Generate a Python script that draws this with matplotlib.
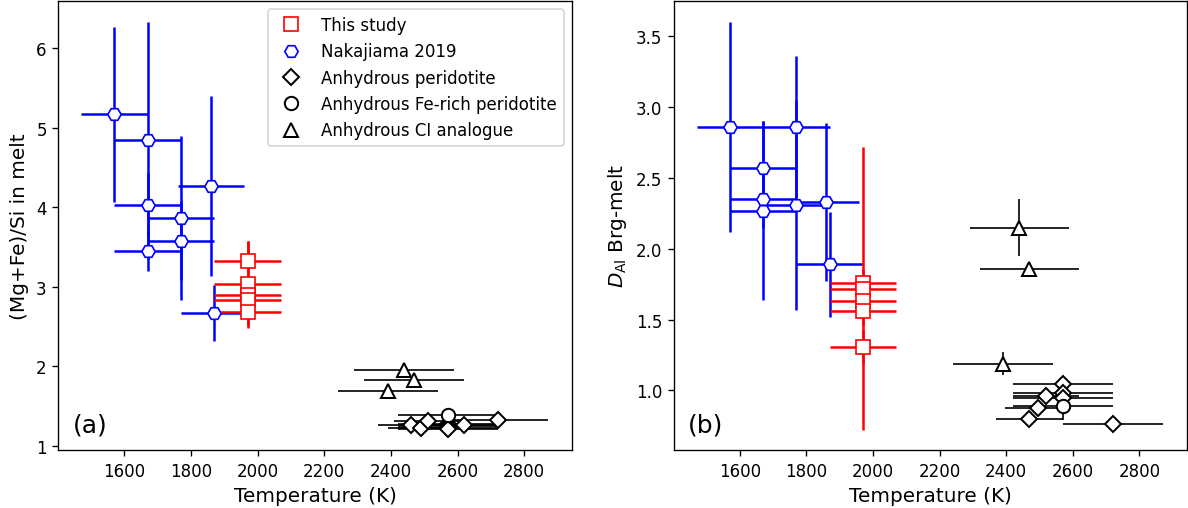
import matplotlib
matplotlib.use('Agg')
from matplotlib import pyplot as plt
from matplotlib.lines import Line2D

plt.rcParams['font.size'] = 10

# This study
ts_T = [1970, 1970, 1970, 1970, 1970]
ts_T_err = [100, 100, 100, 100, 100]
ts_mgfe = [3.32, 3.03, 2.90, 2.84, 2.68]
ts_mgfe_err = [0.26, 0.55, 0.12, 0.12, 0.17]
ts_dal = [1.76, 1.72, 1.63, 1.56, 1.31]
ts_dal_err = [0.10, 1.00, 0.10, 0.10, 0.12]

# Nakajiama 2019
nak_T = [1570, 1670, 1670, 1670, 1770, 1770, 1860, 1870]
nak_T_err = [100, 100, 100, 100, 100, 100, 98, 100]
nak_mgfe = [5.17, 4.84, 4.03, 3.45, 3.86, 3.58, 4.27, 2.67]
nak_mgfe_err = [1.10, 1.49, 0.40, 0.25, 1.03, 0.50, 1.13, 0.35]
nak_dal = [2.86, 2.57, 2.35, 2.27, 2.86, 2.31, 2.33, 1.89]
nak_dal_err = [0.74, 0.33, 0.20, 0.63, 0.50, 0.74, 0.56, 0.37]

# Anhydrous peridotite
per_T_a = [2460, 2490, 2510, 2570, 2570, 2570, 2570, 2620, 2720]
per_T_err_a = [100, 100, 100, 150, 150, 150, 150, 100, 150]
per_mgfe = [1.26, 1.23, 1.31, 1.28, 1.25, 1.23, 1.21, 1.26, 1.33]
per_mgfe_err = [0.03, 0.03, 0.03, 0.03, 0.03, 0.03, 0.03, 0.03, 0.03]
per_T_b = [2470, 2495, 2520, 2570, 2570, 2570, 2720]
per_T_err_b = [100, 100, 100, 150, 150, 150, 150]
per_dal = [0.80, 0.875, 0.96, 1.045, 0.98, 0.95, 0.765]
per_dal_err = [0.03, 0.03, 0.05, 0.03, 0.03, 0.03, 0.03]

# Anhydrous Fe-rich peridotite
fe_T = [2570]
fe_T_err = [150]
fe_mgfe = [1.39]
fe_mgfe_err = [0.03]
fe_dal = [0.89]
fe_dal_err = [0.10]

# Anhydrous CI analogue
ci_T = [2440, 2470, 2390]
ci_T_err = [150, 150, 150]
ci_mgfe = [1.955, 1.83, 1.69]
ci_mgfe_err = [0.02, 0.02, 0.02]
ci_dal = [2.15, 1.86, 1.19]
ci_dal_err = [0.20, 0.05, 0.08]


def series(ax, x, y, xerr, yerr, marker, color, ms, lw, mew):
    ax.errorbar(x, y, xerr=xerr, yerr=yerr, fmt=marker, color=color,
                mfc='white', mec=color, ms=ms, mew=mew, elinewidth=lw,
                capsize=0, ls='none')


fig = plt.figure(figsize=(9.9, 509 / 120), dpi=120)
ax1 = fig.add_axes([0.0492, 0.114, 0.4322, 0.882])
ax2 = fig.add_axes([0.5673, 0.114, 0.4318, 0.882])

series(ax1, nak_T, nak_mgfe, nak_T_err, nak_mgfe_err, 'H', 'blue', 8, 1.5, 1.0)
series(ax1, ts_T, ts_mgfe, ts_T_err, ts_mgfe_err, 's', 'red', 8, 1.5, 1.0)
series(ax1, ci_T, ci_mgfe, ci_T_err, ci_mgfe_err, '^', 'k', 8, 1.0, 1.2)
series(ax1, per_T_a, per_mgfe, per_T_err_a, per_mgfe_err, 'D', 'k', 7, 1.0, 1.2)
series(ax1, fe_T, fe_mgfe, fe_T_err, fe_mgfe_err, 'o', 'k', 8, 1.0, 1.2)

series(ax2, nak_T, nak_dal, nak_T_err, nak_dal_err, 'H', 'blue', 8, 1.5, 1.0)
series(ax2, ts_T, ts_dal, ts_T_err, ts_dal_err, 's', 'red', 8, 1.5, 1.0)
series(ax2, ci_T, ci_dal, ci_T_err, ci_dal_err, '^', 'k', 8, 1.0, 1.2)
series(ax2, per_T_b, per_dal, per_T_err_b, per_dal_err, 'D', 'k', 7, 1.0, 1.2)
series(ax2, fe_T, fe_dal, fe_T_err, fe_dal_err, 'o', 'k', 8, 1.0, 1.2)

ax1.set_xlim(1402, 2943)
ax1.set_ylim(0.95, 6.59)
ax2.set_xlim(1402, 2943)
ax2.set_ylim(0.58, 3.75)

ax1.set_xlabel('Temperature (K)', fontsize=12)
ax1.set_ylabel('(Mg+Fe)/Si in melt', fontsize=12)
ax2.set_xlabel('Temperature (K)', fontsize=12)
ax2.set_ylabel(r'$D_{\mathrm{Al}}$ Brg-melt', fontsize=12)

ax1.text(0.028, 0.03, '(a)', transform=ax1.transAxes, fontsize=15, va='bottom')
ax2.text(0.028, 0.03, '(b)', transform=ax2.transAxes, fontsize=15, va='bottom')

handles = [
    Line2D([], [], ls='none', marker='s', ms=8, mfc='white', mec='red', mew=1.0),
    Line2D([], [], ls='none', marker='H', ms=8, mfc='white', mec='blue', mew=1.0),
    Line2D([], [], ls='none', marker='D', ms=7, mfc='white', mec='k', mew=1.2),
    Line2D([], [], ls='none', marker='o', ms=8, mfc='white', mec='k', mew=1.2),
    Line2D([], [], ls='none', marker='^', ms=8, mfc='white', mec='k', mew=1.2),
]
labels = ['This study', 'Nakajiama 2019', 'Anhydrous peridotite',
          'Anhydrous Fe-rich peridotite', 'Anhydrous CI analogue']
ax1.legend(handles, labels, loc='upper right')

fig.savefig('out.png', dpi=120)
